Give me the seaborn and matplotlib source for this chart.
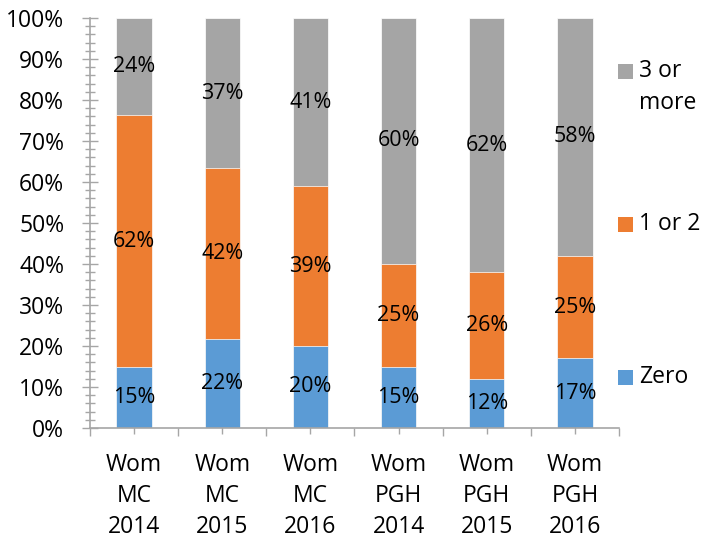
import matplotlib
matplotlib.use("Agg")
import matplotlib.pyplot as plt
from matplotlib.patches import Rectangle
from matplotlib.ticker import MultipleLocator, FixedLocator
import seaborn as sns
import numpy as np
import pandas as pd

categories = ["Wom\nMC\n2014", "Wom\nMC\n2015", "Wom\nMC\n2016",
              "Wom\nPGH\n2014", "Wom\nPGH\n2015", "Wom\nPGH\n2016"]
zero = [15, 22, 20, 15, 12, 17]
one_or_two = [62, 42, 39, 25, 26, 25]
three_plus = [24, 37, 41, 60, 62, 58]
series_names = ["Zero", "1 or 2", "3 or\nmore"]
colors = ["#5B9BD5", "#ED7D31", "#A5A5A5"]

sns.set_theme(style="white")
plt.rcParams["font.family"] = ["Open Sans", "DejaVu Sans"]

z = np.array(zero, float)
o = np.array(one_or_two, float)
t = np.array(three_plus, float)
tot = z + o + t
zp, op, tp = z / tot * 100, o / tot * 100, t / tot * 100

df = pd.DataFrame({"cat": categories, "zero": zp, "low": zp + op, "all": zp + op + tp})

fig = plt.figure(figsize=(7.02, 5.42), dpi=100)
ax = fig.add_axes([90 / 702, 1 - 428 / 542, (619 - 90) / 702, (428 - 18) / 542])

for col, c in zip(["all", "low", "zero"], colors[::-1]):
    sns.barplot(data=df, x="cat", y=col, color=c, width=0.4, ax=ax,
                edgecolor="#FFFFFF", linewidth=0.5, saturation=1)

n = len(categories)
for i in range(n):
    mids = [zp[i] / 2, zp[i] + op[i] / 2, zp[i] + op[i] + tp[i] / 2]
    vals = [zero[i], one_or_two[i], three_plus[i]]
    for m, v in zip(mids, vals):
        ax.text(i, m, f"{v}%", ha="center", va="center", fontsize=15.5, color="#000000")

ax.set_xlim(-0.5, n - 0.5)
ax.set_ylim(0, 100)
ax.set_xlabel("")
ax.set_ylabel("")
ax.yaxis.set_major_locator(MultipleLocator(10))
ax.yaxis.set_minor_locator(MultipleLocator(2))
ax.set_yticklabels([f"{int(v)}%" for v in ax.get_yticks()])
ax.set_xticks(np.arange(-0.5, n, 1.0))
ax.set_xticklabels([""] * (n + 1))
ax.xaxis.set_minor_locator(FixedLocator(np.arange(n)))
ax.set_xticklabels(categories, minor=True, linespacing=1.38)

axis_col = "#A6A6A6"
for s in ["top", "right"]:
    ax.spines[s].set_visible(False)
for s in ["left", "bottom"]:
    ax.spines[s].set_color(axis_col)
    ax.spines[s].set_linewidth(1.2)

ax.tick_params(axis="y", which="both", left=True, direction="inout", color=axis_col, width=1.0,
               labelsize=16.5, pad=13, labelcolor="#000000")
ax.tick_params(axis="y", which="major", length=11)
ax.tick_params(axis="y", which="minor", length=7.5)
ax.tick_params(axis="x", which="major", bottom=True, direction="out", length=6, color=axis_col, width=1.0)
ax.tick_params(axis="x", which="minor", bottom=True, direction="inout", length=8, color=axis_col, width=1.0,
               labelsize=16.5, pad=14, labelcolor="#000000")

# legend
leg_y = [378, 225, 72]
for name, c, y in zip(series_names, colors, leg_y):
    fig.patches.append(Rectangle((618 / 702, 1 - (y + 7) / 542), 15 / 702, 15 / 542,
                                 transform=fig.transFigure, facecolor=c, edgecolor="none"))
    fig.text(639 / 702, 1 - (y - 13) / 542, name, ha="left", va="top", fontsize=16.5,
             linespacing=1.45, color="#000000")

fig.savefig("out.png", dpi=100)
